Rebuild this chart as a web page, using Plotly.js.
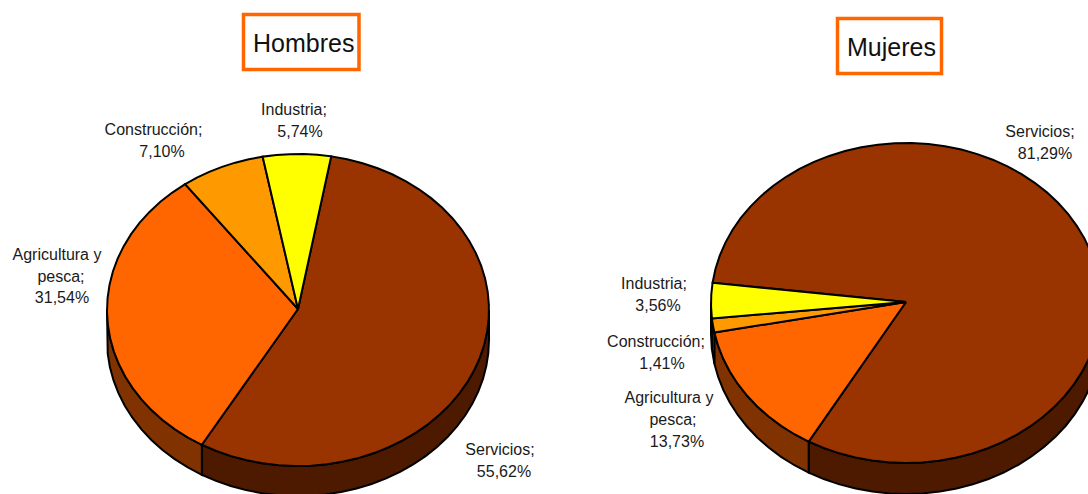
<!DOCTYPE html>
<html>
<head>
<meta charset="utf-8">
<script src="https://cdn.plot.ly/plotly-3.0.1.min.js"></script>
<style>html,body{margin:0;padding:0;background:#fff}#chart{width:1088px;height:494px}</style>
</head>
<body>
<div id="chart"></div>
<script>
// Data
const categories = ['Servicios', 'Agricultura y pesca', 'Construcción', 'Industria'];
const hombresValues = [55.62, 31.54, 7.10, 5.74];
const mujeresValues = [81.29, 13.73, 1.41, 3.56];
const titles = ['Hombres', 'Mujeres'];

// Style and layout
const sliceColors = ['#993300', '#FF6600', '#FF9900', '#FFFF00'];
const wallColors = ['#4D1A00', '#803300', '#804D00', '#808000'];
const orange = '#FF6600';
const pies = [
  {values: hombresValues, cx: 298, cy: 310, apexY: 309, rx: 191, ry: 156, depth: 30, start: 10,
   labelPos: [[[500, 451], [504, 473]], [[57, 256], [61, 278], [62, 299]], [[153.5, 131], [162, 153]], [[294, 111], [300, 133]]]},
  {values: mujeresValues, cx: 906, cy: 303, apexY: 302, rx: 195, ry: 160, depth: 31, start: 277.3,
   labelPos: [[[1040, 133], [1045, 155]], [[669, 399], [673, 421], [677, 443]], [[656, 343], [662, 365]], [[654, 285], [658, 307]]]}
];
const boxes = [{x0: 243.5, x1: 359, y0: 14.5, y1: 69.5, tx: 303, ty: 43},
               {x0: 837.5, x1: 941.5, y0: 18.5, y1: 73.5, tx: 891, ty: 47}];

function pt(p, deg, dy) {
  const a = deg * Math.PI / 180;
  return [p.cx + p.rx * Math.sin(a), p.cy - p.ry * Math.cos(a) + (dy || 0)];
}
function arc(p, a0, a1, dy) {
  const n = Math.max(1, Math.ceil(Math.abs(a1 - a0) / 5));
  const out = [];
  for (let i = 0; i <= n; i++) out.push(pt(p, a0 + (a1 - a0) * i / n, dy));
  return out;
}
function poly(points, fill) {
  const closed = points.concat([points[0]]);
  return {
    type: 'scatter', mode: 'lines', x: closed.map(q => q[0]), y: closed.map(q => q[1]),
    fill: 'toself', fillcolor: fill, line: {color: '#000', width: 2, shape: 'linear'},
    hoverinfo: 'skip', showlegend: false
  };
}
function lineLabels(i, values) {
  const pct = values[i].toFixed(2).replace('.', ',') + '%';
  if (categories[i] === 'Agricultura y pesca') return ['Agricultura y', 'pesca;', pct];
  return [categories[i] + ';', pct];
}

const traces = [];
const textX = [], textY = [], textS = [];
pies.forEach(p => {
  const walls = [], tops = [];
  let a = p.start;
  p.values.forEach((v, i) => {
    const a1 = a + v * 3.6;
    // visible side wall: the part of the slice on the lower half of the ellipse
    [0, 360].forEach(shift => {
      const lo = Math.max(a, 90 + shift), hi = Math.min(a1, 270 + shift);
      if (hi > lo) {
        walls.push(poly(arc(p, lo, hi, 0).concat(arc(p, hi, lo, p.depth)), wallColors[i]));
      }
    });
    tops.push(poly([[p.cx, p.apexY]].concat(arc(p, a, a1, 0)), sliceColors[i]));
    lineLabels(i, p.values).forEach((s, k) => {
      textX.push(p.labelPos[i][k][0]);
      textY.push(p.labelPos[i][k][1]);
      textS.push(s);
    });
    a = a1;
  });
  traces.push(...walls, ...tops);
});
traces.push({
  type: 'scatter', mode: 'text', x: textX, y: textY, text: textS, textposition: 'middle center',
  textfont: {family: '"Liberation Sans", Arial, sans-serif', size: 16, color: '#1a1a1a'},
  hoverinfo: 'skip', showlegend: false, cliponaxis: false
});

const layout = {
  width: 1088, height: 494,
  margin: {l: 0, r: 0, t: 0, b: 0},
  paper_bgcolor: '#fff', plot_bgcolor: '#fff',
  showlegend: false, hovermode: false,
  xaxis: {range: [0, 1088], visible: false, fixedrange: true},
  yaxis: {range: [494, 0], visible: false, fixedrange: true},
  shapes: boxes.map(b => ({type: 'rect', xref: 'x', yref: 'y', x0: b.x0, x1: b.x1, y0: b.y0, y1: b.y1,
    line: {color: orange, width: 3.5}, fillcolor: '#fff'})),
  annotations: boxes.map((b, i) => ({xref: 'x', yref: 'y', x: b.tx, y: b.ty, text: titles[i], showarrow: false,
    xanchor: 'center', yanchor: 'middle',
    font: {family: '"Liberation Sans", Arial, sans-serif', size: 25, color: '#111'}}))
};
Plotly.newPlot('chart', traces, layout, {displayModeBar: false, staticPlot: true});
</script>
</body>
</html>
